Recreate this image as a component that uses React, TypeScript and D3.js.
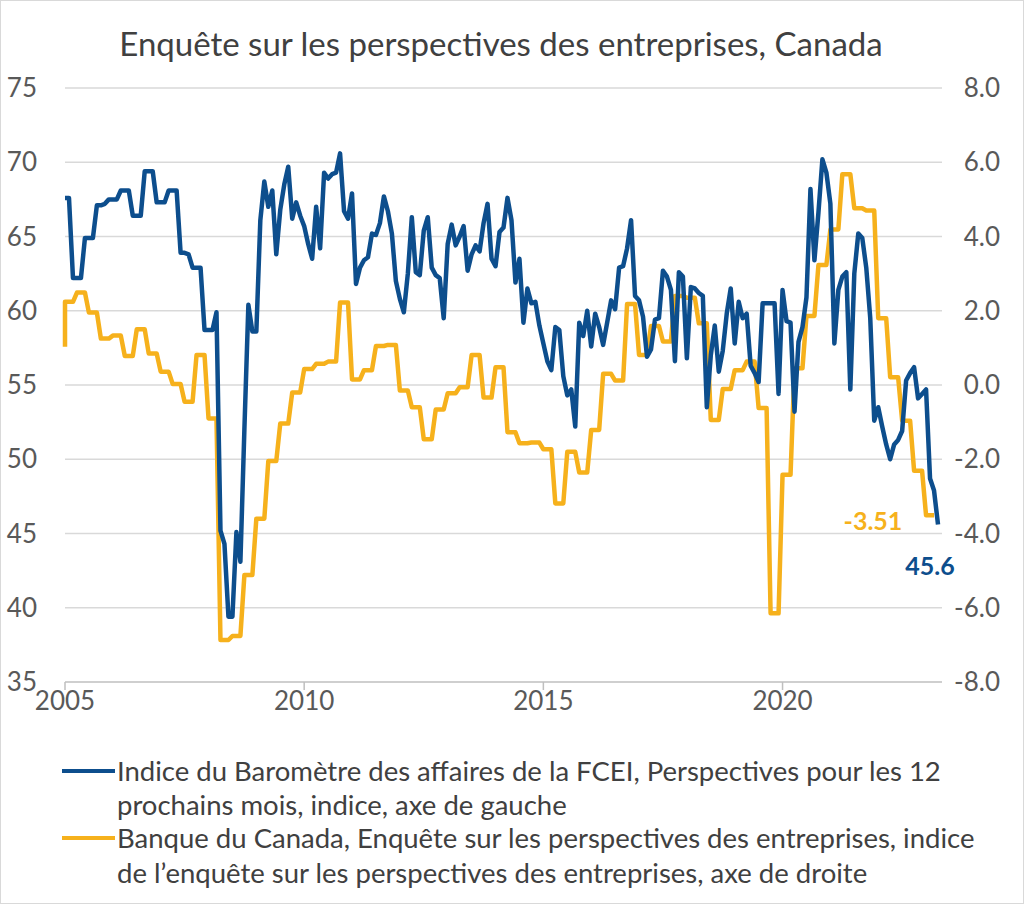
import React from "react";
import * as d3 from "d3";

// CFIB Business Barometer, 12-month outlook (monthly, left axis), Jan 2005 onward
const cfibIndex: number[] = [
  67.6, 67.6, 62.2, 62.2, 62.2, 64.9, 64.9, 64.9, 67.1, 67.1,
  67.2, 67.5, 67.5, 67.5, 68.1, 68.1, 68.1, 66.4, 66.4, 66.4,
  69.4, 69.4, 69.4, 67.3, 67.3, 67.3, 68.1, 68.1, 68.1, 63.9,
  63.9, 63.8, 62.9, 62.9, 62.9, 58.7, 58.7, 58.7, 59.9, 45.2,
  44.3, 39.4, 39.4, 45.1, 43.1, 52.0, 60.4, 58.6, 58.6, 66.1,
  68.7, 67.0, 68.1, 63.8, 66.8, 68.5, 69.7, 66.2, 67.3, 66.4,
  65.7, 64.5, 63.5, 67.0, 64.2, 69.3, 68.9, 69.2, 69.3, 70.6,
  66.7, 66.2, 67.9, 61.8, 62.9, 63.4, 63.6, 65.2, 65.1, 65.9,
  67.7, 66.7, 65.2, 62.0, 60.8, 59.9, 62.5, 66.3, 62.6, 62.4,
  65.4, 66.3, 62.9, 62.4, 62.2, 59.5, 64.5, 65.8, 64.4, 65.0,
  65.7, 62.7, 63.8, 64.4, 64.0, 65.9, 67.2, 63.5, 63.0, 65.3,
  65.6, 67.6, 66.1, 61.9, 63.5, 59.2, 61.5, 60.5, 60.6, 59.0,
  57.8, 56.6, 56.0, 58.9, 58.7, 55.6, 54.3, 54.7, 52.2, 59.2,
  58.3, 60.0, 57.6, 59.8, 58.9, 57.7, 59.2, 60.7, 60.1, 62.9,
  63.0, 64.2, 66.1, 61.0, 60.7, 59.6, 56.9, 57.4, 59.4, 59.5,
  62.7, 62.3, 61.4, 56.6, 62.6, 62.3, 56.8, 61.6, 61.5, 61.2,
  61.0, 53.5, 57.0, 59.0, 55.9, 57.3, 59.8, 61.5, 57.8, 60.6,
  59.5, 59.8, 56.3, 55.8, 55.2, 60.5, 60.5, 60.5, 60.5, 54.4,
  61.4, 59.3, 59.2, 53.2, 57.9, 58.9, 60.9, 68.2, 63.4, 66.6,
  70.2, 69.3, 67.2, 57.8, 61.4, 62.3, 62.6, 54.7, 62.5, 65.2,
  64.9, 62.9, 59.5, 52.6, 53.5, 52.2, 51.0, 50.0, 51.0, 51.3,
  51.9, 55.3, 55.8, 56.2, 54.1, 54.4, 54.7, 48.7, 47.9, 45.6,
];

// Bank of Canada Business Outlook Survey indicator (quarterly, right axis)
const bosLead = 1.03;
const bosQuarterly: number[] = [
  2.24, 2.49, 1.95, 1.25, 1.33, 0.78, 1.5, 0.85, 0.36, 0.03,
  -0.45, 0.81, -0.9, -6.87, -6.76, -5.12, -3.6, -2.05, -1.04, -0.2,
  0.43, 0.57, 0.63, 2.22, 0.15, 0.4, 1.05, 1.08, -0.15, -0.6,
  -1.46, -0.66, -0.22, -0.06, 0.81, -0.34, 0.48, -1.27, -1.57, -1.55,
  -1.73, -3.19, -1.8, -2.36, -1.21, 0.3, 0.12, 2.18, 0.81, 1.59,
  1.17, 2.4, 2.35, 1.66, -0.94, -0.11, 0.4, 0.63, -0.62, -6.15,
  -2.42, 0.45, 1.86, 3.23, 4.19, 5.68, 4.76, 4.7, 1.8, 0.21,
  -0.96, -2.31, -3.51,
];

const leftTicks = [35, 40, 45, 50, 55, 60, 65, 70, 75];
const rightTicks = [-8, -6, -4, -2, 0, 2, 4, 6, 8];
const yearLabels = ["2005", "2010", "2015", "2020"];
const yearMonthIndex = [0, 60, 120, 180];

const title = "Enquête sur les perspectives des entreprises, Canada";
const legendBlue = [
  "Indice du Baromètre des affaires de la FCEI, Perspectives pour les 12",
  "prochains mois, indice, axe de gauche",
];
const legendOrange = [
  "Banque du Canada, Enquête sur les perspectives des entreprises, indice",
  "de l\u2019enquête sur les perspectives des entreprises, axe de droite",
];

const BLUE = "#0D4E8D";
const ORANGE = "#F6B11C";
const FONT = "Lato, 'Open Sans', sans-serif";

export default function App() {
  const W = 1024;
  const H = 904;
  const x = d3.scaleLinear().domain([0, 220]).range([65, 942]);
  const yL = d3.scaleLinear().domain([35, 75]).range([682, 88]);
  const yR = d3.scaleLinear().domain([-8, 8]).range([682, 88]);

  const bluePts = cfibIndex.map((v, i) => [i, v] as [number, number]);
  const orangePts: [number, number][] = [[0, bosLead]];
  bosQuarterly.forEach((v, q) => {
    for (let k = 0; k < 3; k++) orangePts.push([q * 3 + k, v]);
  });

  const blueLine = d3
    .line<[number, number]>()
    .x((d) => x(d[0]))
    .y((d) => yL(d[1]))(bluePts);
  const orangeLine = d3
    .line<[number, number]>()
    .x((d) => x(d[0]))
    .y((d) => yR(d[1]))(orangePts);

  const lastBlue = cfibIndex[cfibIndex.length - 1];
  const lastOrange = bosQuarterly[bosQuarterly.length - 1];

  return (
    <div style={{ position: "absolute", left: 0, top: 0 }}>
      <svg width={W} height={H} style={{ display: "block", background: "#fff" }} fontFamily={FONT}>
        <rect x={0.5} y={0.5} width={W - 1} height={H - 1} fill="#fff" stroke="#d9d9d9" />
        <text x={501} y={56} textAnchor="middle" fontSize={33} fill="#404040">
          {title}
        </text>
        {leftTicks.map((t) =>
          t === 35 ? null : (
            <line key={"g" + t} x1={65} x2={942} y1={yL(t)} y2={yL(t)} stroke="#d9d9d9" strokeWidth={1.5} />
          )
        )}
        <line x1={65} x2={942} y1={yL(35)} y2={yL(35)} stroke="#bfbfbf" strokeWidth={1.5} />
        {yearMonthIndex.map((m) => (
          <line key={"t" + m} x1={x(m)} x2={x(m)} y1={682} y2={690} stroke="#bfbfbf" strokeWidth={1.5} />
        ))}
        {leftTicks.map((t) => (
          <text key={"l" + t} x={37} y={yL(t)} dy="0.35em" textAnchor="end" fontSize={26} fill="#595959">
            {t}
          </text>
        ))}
        {rightTicks.map((t) => (
          <text key={"r" + t} x={1000} y={yR(t)} dy="0.35em" textAnchor="end" fontSize={26} fill="#595959">
            {t.toFixed(1)}
          </text>
        ))}
        {yearMonthIndex.map((m, i) => (
          <text key={"x" + m} x={x(m)} y={710} textAnchor="middle" fontSize={26} fill="#595959">
            {yearLabels[i]}
          </text>
        ))}
        <path d={orangeLine || ""} fill="none" stroke={ORANGE} strokeWidth={4.5} strokeLinejoin="round" />
        <path d={blueLine || ""} fill="none" stroke={BLUE} strokeWidth={4.5} strokeLinejoin="round" />
        <text x={873} y={530} textAnchor="middle" fontSize={25} fontWeight="bold" fill={ORANGE}>
          {lastOrange.toFixed(2)}
        </text>
        <text x={930} y={575} textAnchor="middle" fontSize={25} fontWeight="bold" fill={BLUE}>
          {lastBlue.toFixed(1)}
        </text>
        <line x1={62} x2={115} y1={771} y2={771} stroke={BLUE} strokeWidth={4} />
        {legendBlue.map((s, i) => (
          <text key={"lb" + i} x={117} y={781 + i * 34} fontSize={27.5} fill="#404040">
            {s}
          </text>
        ))}
        <line x1={62} x2={115} y1={838} y2={838} stroke={ORANGE} strokeWidth={4} />
        {legendOrange.map((s, i) => (
          <text key={"lo" + i} x={117} y={848 + i * 35} fontSize={27.5} fill="#404040">
            {s}
          </text>
        ))}
      </svg>
    </div>
  );
}
